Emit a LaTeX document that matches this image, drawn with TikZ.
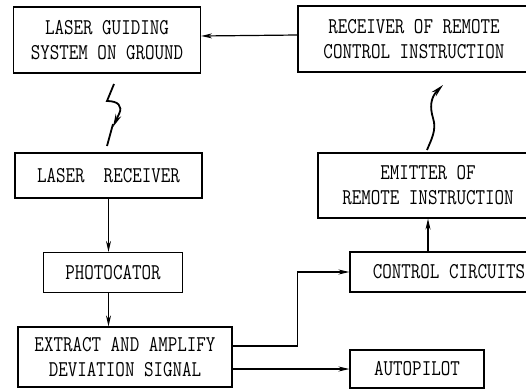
\documentclass[tikz,border=0pt]{standalone}
\usepackage{tikz}
\usetikzlibrary{arrows.meta}
\newcommand{\tall}[1]{\scalebox{1}[1.22]{#1}}
\tikzset{
  blk/.style={draw, align=center, inner sep=0pt, font=\fontsize{18.5}{25}\selectfont\ttfamily},
  >={Stealth[length=11pt,width=5pt]}
}

\begin{document}
\begin{tikzpicture}[x=1pt,y=-1pt,line width=1.2pt]
		\clip (0,0) rectangle (526,389);
		\node[blk,minimum width=187pt,minimum height=66pt] (guide) at (107,40) {\tall{LASER GUIDING}\\\tall{SYSTEM ON GROUND}};
		\node[blk,minimum width=232pt,minimum height=66pt] (remrx) at (414,39) {\tall{RECEIVER OF REMOTE}\\\tall{CONTROL INSTRUCTION}};
		\node[blk,minimum width=187pt,minimum height=45pt] (laserrx) at (108.5,175.5) {\tall{LASER\ \ RECEIVER}};
		\node[blk,minimum width=220pt,minimum height=65pt] (emit) at (428,185.5) {\tall{EMITTER OF}\\\tall{REMOTE INSTRUCTION}};
		\node[blk,minimum width=139pt,minimum height=40pt] (photo) at (113,272.5) {\tall{PHOTOCATOR}};
		\node[blk,minimum width=198pt,minimum height=40pt] (ctrl) at (449,272) {\tall{CONTROL CIRCUITS}};
		\node[blk,minimum width=214pt,minimum height=60pt] (extract) at (125,357) {\tall{EXTRACT AND AMPLIFY}\\\tall{DEVIATION SIGNAL}};
		\node[blk,minimum width=134pt,minimum height=38pt] (auto) at (417,369) {\tall{AUTOPILOT}};
		% links
		\draw[->] ([yshift=4pt]remrx.west) -- ([yshift=4pt]guide.east);
		\draw[->] (laserrx.south) -- (laserrx.south |- photo.north);
		\draw[->] (photo.south -| laserrx.south) -- (laserrx.south |- extract.north);
		\draw[->] ([yshift=11pt]extract.east) -- ++(65,0) |- (ctrl.west);
		\draw[->] (extract.east |- auto.west) -- (auto.west);
		\draw[->] (emit.south |- ctrl.north) -- (emit.south);
		% radio links
		\draw[->,line width=1.8pt,>={Stealth[length=13pt,width=6pt]}] (114,84) -- (107,101) .. controls (118,101) and (123,106) .. (119,114) -- (113,127);
		\draw[line width=1.8pt] (113,124) -- (107,146);
		\draw[->,line width=1.8pt,>={Stealth[length=13pt,width=6pt]}] (427,150) .. controls (431,140) and (437,130) .. (433,118) .. controls (430,108) and (430,98) .. (443,85);
	\end{tikzpicture}
\end{document}
